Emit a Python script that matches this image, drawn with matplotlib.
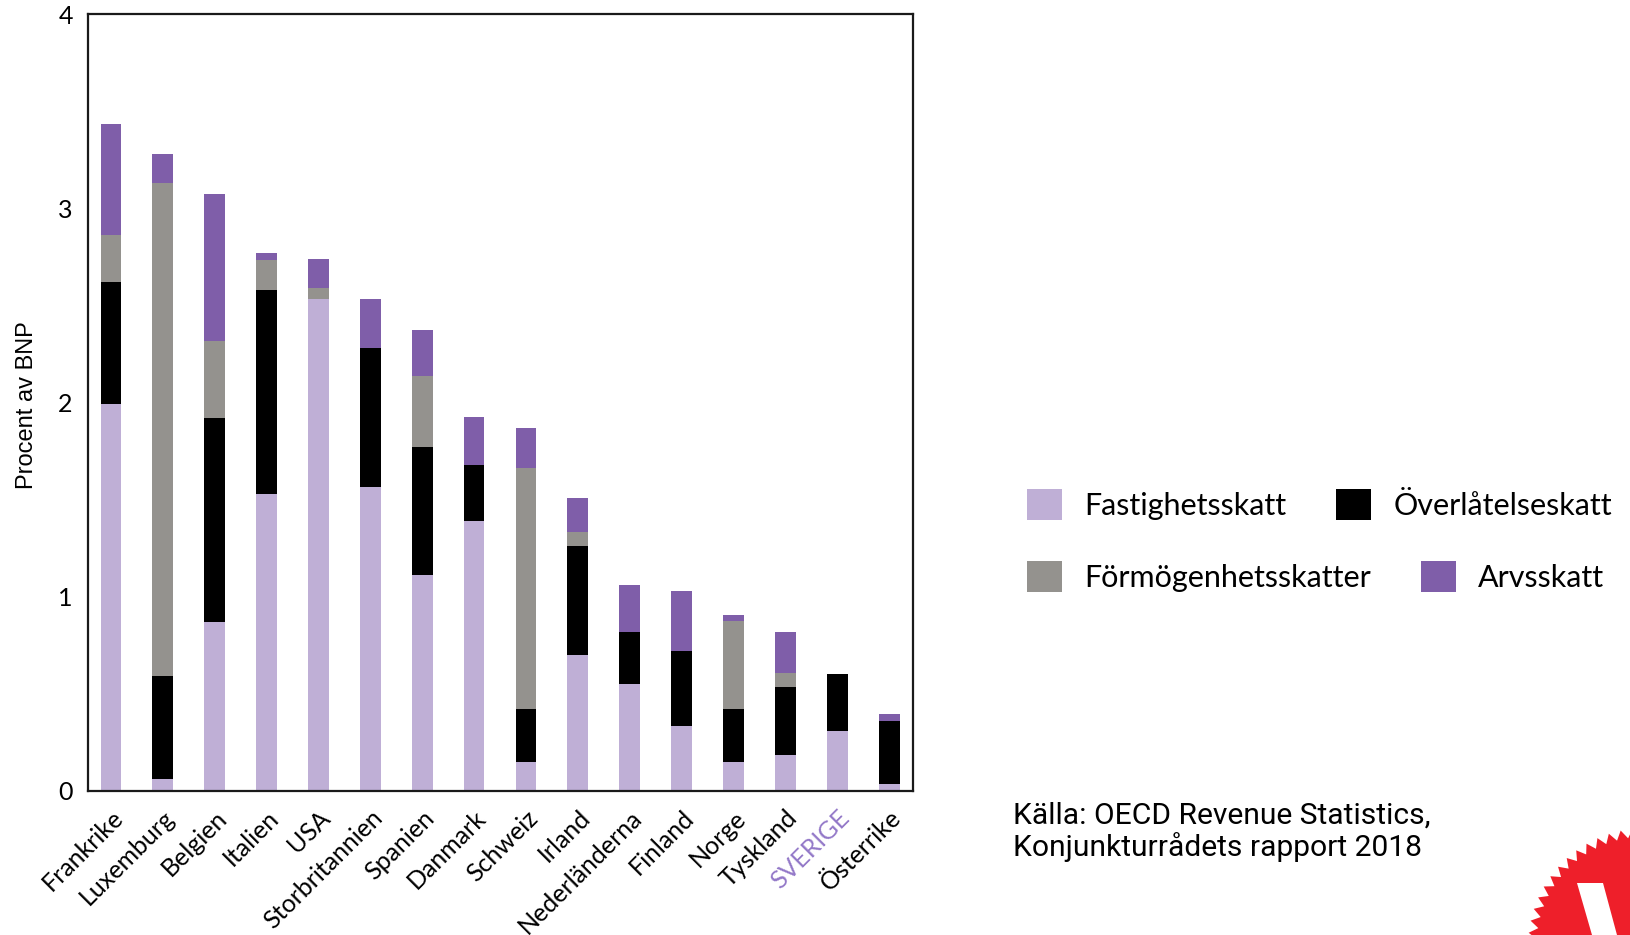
import numpy as np
import matplotlib
matplotlib.use("Agg")
import matplotlib.pyplot as plt
from matplotlib.patches import Patch, Polygon

plt.rcParams["font.family"] = ["Lato", "DejaVu Sans"]

countries = ["Frankrike", "Luxemburg", "Belgien", "Italien", "USA", "Storbritannien",
             "Spanien", "Danmark", "Schweiz", "Irland", "Nederländerna", "Finland",
             "Norge", "Tyskland", "SVERIGE", "Österrike"]

# procent av BNP, stacked bottom -> top
fastighet = [1.99, 0.06, 0.87, 1.53, 2.53, 1.565, 1.11, 1.39, 0.15, 0.70, 0.55, 0.335, 0.15, 0.185, 0.31, 0.035]
overlatelse = [0.63, 0.53, 1.047, 1.05, 0.0, 0.716, 0.66, 0.29, 0.27, 0.56, 0.265, 0.385, 0.27, 0.35, 0.29, 0.325]
formogenhet = [0.24, 2.54, 0.40, 0.154, 0.06, 0.0, 0.364, 0.0, 1.24, 0.07, 0.0, 0.0, 0.455, 0.07, 0.0, 0.0]
arv = [0.575, 0.15, 0.755, 0.034, 0.15, 0.25, 0.24, 0.247, 0.21, 0.18, 0.245, 0.31, 0.03, 0.21, 0.0, 0.035]

series = [
    ("Fastighetsskatt", fastighet, "#bfafd6"),
    ("Överlåtelseskatt", overlatelse, "#000000"),
    ("Förmögenhetsskatter", formogenhet, "#94928e"),
    ("Arvsskatt", arv, "#7f5ea9"),
]

fig = plt.figure(figsize=(16.31, 9.35), dpi=100)
ax = fig.add_axes([0.054, 0.1543, 0.5058, 0.8307])

x = np.arange(len(countries))
bottom = np.zeros(len(countries))
for name, vals, col in series:
    ax.bar(x, vals, width=0.4, bottom=bottom, color=col, linewidth=0)
    bottom += np.array(vals)

ax.set_xlim(-0.44, 15.46)
ax.set_ylim(0, 4)
ax.set_yticks([0, 1, 2, 3, 4])
ax.tick_params(axis="y", length=0, pad=11, labelsize=18)
ax.tick_params(axis="x", length=0, pad=11)
for s in ax.spines.values():
    s.set_linewidth(1.6)
    s.set_color("#1a1a1a")

ax.set_xticks(x)
ax.set_xticklabels(countries, rotation=45, ha="right", va="top",
                   rotation_mode="anchor", fontsize=18)
for lab in ax.get_xticklabels():
    if lab.get_text() == "SVERIGE":
        lab.set_color("#9378c8")

ax.set_ylabel("Procent av BNP", fontsize=17, family=["Liberation Sans"])
ax.yaxis.set_label_coords(-0.061, 0.496)

# legend in two rows, as in the original
handles = [Patch(facecolor=c, edgecolor="none") for _, _, c in series]
labels = [n for n, _, _ in series]
leg_kw = dict(frameon=False, fontsize=22, handlelength=1.15, handleheight=1.15,
              handletextpad=0.73, columnspacing=1.62, borderpad=0, borderaxespad=0,
              loc="center left", ncol=2)
leg1 = fig.legend([handles[0], handles[1]], [labels[0], labels[1]],
                  bbox_to_anchor=(0.6297, 0.4604), **leg_kw)
leg2 = fig.legend([handles[2], handles[3]], [labels[2], labels[3]],
                  bbox_to_anchor=(0.6297, 0.3834), **leg_kw)

fig.text(0.621, 0.143, "Källa: OECD Revenue Statistics,\nKonjunkturrådets rapport 2018",
         fontsize=21.6, family=["Roboto"], va="top", ha="left", linespacing=1.1)

# logo corner
lax = fig.add_axes([0, 0, 1, 1], zorder=-1)
lax.set_xlim(0, 1631)
lax.set_ylim(935, 0)
lax.axis("off")
ang = np.linspace(0, 2 * np.pi, 121)
rad = np.where(np.arange(121) % 2 == 0, 117, 108)
pts = np.column_stack([1645 + rad * np.cos(ang), 945 + rad * np.sin(ang)])
lax.add_patch(Polygon(pts, closed=True, facecolor="#ee1f2a", edgecolor="none"))
lax.add_patch(Polygon([(1577, 883), (1603, 883), (1617, 935), (1592, 935)],
                      closed=True, facecolor="white", edgecolor="none"))

fig.savefig("out.png", dpi=100)
